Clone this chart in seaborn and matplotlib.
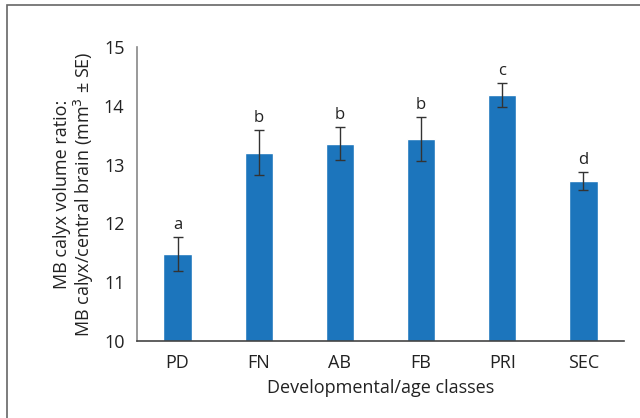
import seaborn as sns
import matplotlib.pyplot as plt
import matplotlib.patches as mpatches
import pandas as pd

# values
classes = ['PD', 'FN', 'AB', 'FB', 'PRI', 'SEC']
ratio = [11.48, 13.20, 13.35, 13.43, 14.18, 12.72]
se = [0.29, 0.385, 0.28, 0.37, 0.20, 0.145]
letters = ['a', 'b', 'b', 'b', 'c', 'd']

df = pd.DataFrame({'cls': classes, 'ratio': ratio, 'se': se})

sns.set_style('white')
plt.rcParams['font.family'] = ['Open Sans', 'DejaVu Sans']

fig = plt.figure(figsize=(6.4, 4.18), dpi=100)
ax = fig.add_axes([0.214, 0.184, 0.761, 0.704])

sns.barplot(data=df, x='cls', y='ratio', color='#1c75bc', saturation=1,
            width=0.35, errorbar=None, ax=ax)
ax.errorbar(range(len(classes)), df['ratio'], yerr=df['se'], fmt='none',
            ecolor='#333333', elinewidth=1, capsize=3.5, capthick=1)
for i, (v, s, t) in enumerate(zip(ratio, se, letters)):
    ax.text(i, v + s + 0.07, t, ha='center', va='bottom', fontsize=12, color='#222222')

ax.set_ylim(10, 15)
ax.set_xlim(-0.5, 5.5)
ax.set_yticks([10, 11, 12, 13, 14, 15])
ax.set_xticks(range(6))
ax.set_xticks([x - 0.5 for x in range(7)], minor=True)
ax.tick_params(axis='x', which='major', length=0, labelsize=13, pad=9, colors='#222222')
ax.tick_params(axis='x', which='minor', length=6, width=1, color='#555555', direction='out')
ax.tick_params(axis='y', length=6, width=1, labelsize=13,
               direction='out', pad=3, colors='#222222')
ax.tick_params(axis='y', color='#888888')

for side in ['top', 'right']:
    ax.spines[side].set_visible(False)
ax.spines['left'].set_color('#888888')
ax.spines['bottom'].set_color('#444444')
ax.spines['left'].set_linewidth(1.2)
ax.spines['bottom'].set_linewidth(1.2)

ax.set_xlabel('Developmental/age classes', fontsize=13, color='#222222', labelpad=5)
ax.set_ylabel('MB calyx volume ratio:\nMB calyx/central brain (mm$^3$ ± SE)',
              fontsize=13, color='#222222', labelpad=6, linespacing=1.0)

# outer frame of the figure panel
fig.patches.append(mpatches.Rectangle((7 / 640, -0.1), 1.2, 1.1 - 5 / 418,
                                      transform=fig.transFigure, fill=False,
                                      edgecolor='#666666', linewidth=1.2))

fig.savefig('out.png', dpi=100)
